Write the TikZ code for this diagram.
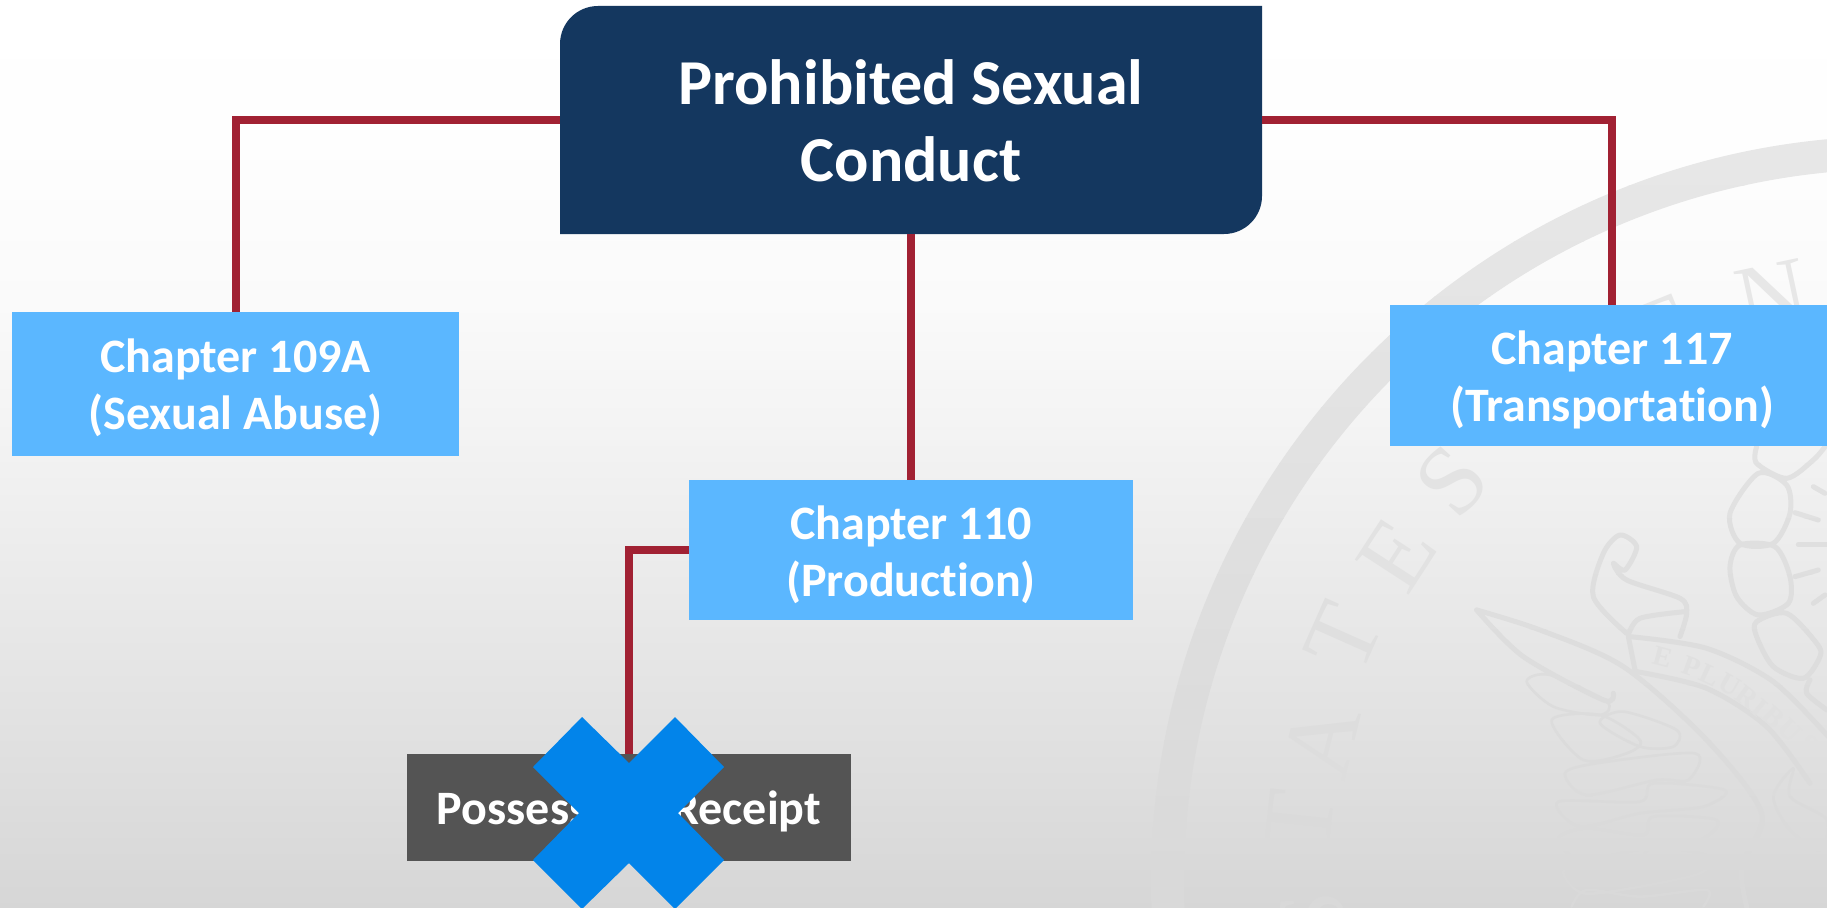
\documentclass[tikz,border=0pt]{standalone}
\usepackage{fontspec}
\setmainfont{Carlito}[Ligatures=NoCommon]
\newfontfamily\sealfont{Liberation Serif}
\usetikzlibrary{positioning}
\definecolor{navybox}{HTML}{14375F}
\definecolor{skybox}{HTML}{5BB7FF}
\definecolor{greybox}{HTML}{545454}
\definecolor{wire}{HTML}{A12133}
\definecolor{crossblue}{HTML}{0284EA}
\pgfdeclareverticalshading{bgsh}{100bp}{color(0bp)=(white!84!black);color(25bp)=(white!84!black);color(37.5bp)=(white!89.5!black);color(50.7bp)=(white!95.2!black);color(58.2bp)=(white!98!black);color(66.7bp)=(white!99.5!black);color(75bp)=(white);color(100bp)=(white)}
\tikzset{
  boxlabel/.style={text=white,font=\bfseries\fontsize{48}{57}\selectfont,align=center,inner sep=0pt},
  sky/.style={boxlabel,fill=skybox,minimum height=142pt},
  wirepath/.style={draw=wire,line width=8pt},
  sealline/.style={draw=sc,line width=5pt,line join=round,line cap=round},
  sealthin/.style={draw=sc,line width=2.6pt,line join=round,line cap=round},
  sealring/.style={draw=sc,line width=33pt},
}
\newcommand{\dropline}[2]{\raisebox{-#1}[\height][\depth]{#2}}
\newcommand{\sealletter}[5]{% x y rot size gray
  \definecolor{lt}{gray}{#5}\node[text=lt,rotate=#3,inner sep=0pt,font=\sealfont\fontsize{#4}{#4}\selectfont] at (#1,#2)}
\newcommand{\sealart}{%
  \draw[sealring] (1897,882) circle[radius=729.5];
  \begin{scope}[shift={(1440,440)},x=0.3333pt,y=-0.3333pt]
    % scroll
    \draw[sealline] plot[smooth] coordinates {(560,580) (460,470) (490,340) (540,285) (590,320) (555,390) (520,370) (560,420) (720,475) (740,520) (720,590)};
    \draw[sealline] plot[smooth] coordinates {(565,585) (600,535) (735,515)};
    \draw[sealline] plot[smooth] coordinates {(565,590) (585,690)};
    \draw[sealline] plot[smooth] coordinates {(570,590) (800,625) (1000,725) (1165,890)};
    \draw[sealline] plot[smooth] coordinates {(590,695) (800,745) (980,860) (1110,1030)};
    % wing tip and body line
    \draw[sealline] plot[smooth] coordinates {(110,510) (300,570) (550,680) (800,900) (965,1120) (905,1280) (920,1400)};
    \draw[sealline] plot[smooth] coordinates {(110,510) (250,650) (490,780) (520,760)};
    % feathers
    \draw[sealthin] plot[smooth cycle] coordinates {(260,725) (330,705) (500,785) (480,825) (340,800)};
    \draw[sealthin] plot[smooth cycle] coordinates {(335,840) (480,825) (600,900) (560,940) (430,960)};
    \draw[sealthin] plot[smooth cycle] coordinates {(480,850) (550,815) (710,870) (700,920) (600,920)};
    \draw[sealthin] plot[smooth cycle] coordinates {(375,1000) (470,970) (765,940) (745,1020) (650,1020) (440,1065)};
    \draw[sealthin] plot[smooth cycle] coordinates {(355,1085) (600,1085) (640,1030) (855,1050) (790,1100) (600,1120) (420,1160)};
    \draw[sealthin] plot[smooth cycle] coordinates {(355,1195) (440,1165) (610,1185) (640,1130) (830,1140) (780,1200) (590,1230) (420,1260)};
    \draw[sealthin] plot[smooth cycle] coordinates {(370,1295) (450,1260) (590,1270) (640,1220) (810,1250) (780,1300) (600,1340) (430,1360)};
    \draw[sealthin] plot[smooth] coordinates {(395,1400) (440,1350) (600,1370) (800,1350) (790,1400)};
    % ribbon detail at the right
    \draw[sealthin] plot[smooth cycle] coordinates {(1060,985) (1000,1070) (1050,1170) (1140,1230) (1161,1140) (1050,1070)};
    % wreath
    \draw[sealline] plot[smooth cycle] coordinates {(955,100) (1040,135) (1050,220) (1000,310) (900,310) (870,220)};
    \draw[sealline] plot[smooth cycle] coordinates {(900,315) (1005,320) (1050,410) (1045,490) (955,525) (890,470) (870,380)};
    \draw[sealline] plot[smooth cycle] coordinates {(1040,520) (1130,610) (1140,650) (1090,715) (1000,680) (950,590) (950,545)};
    \draw[sealline] plot[smooth] coordinates {(950,20) (950,70) (1040,115) (1120,60) (1155,20)};
    \draw[sealline] plot[smooth] coordinates {(1110,720) (1100,760) (1161,810)};
    % rays
    \draw[sealline] (1120,140) -- (1155,160);
    \draw[sealline] (1065,218) -- (1135,240);
    \draw[sealline] (1075,314) -- (1161,314);
    \draw[sealline] (1065,410) -- (1135,390);
    \draw[sealline] (1120,490) -- (1155,465);
  \end{scope}}
\begin{document}
\begin{tikzpicture}[x=1pt,y=-1pt]
  \useasboundingbox (0,0) rectangle (1827,907);
  \clip (0,0) rectangle (1827,907);
  \shade[shading=bgsh] (0,0) rectangle (1827,907);
  % watermark seal: its tone follows the page from top to bottom
  \foreach \band in {0,...,13}{
    \pgfmathsetmacro{\ytop}{130+\band*55.5}
    \pgfmathsetmacro{\ybot}{\ytop+55.5}
    \pgfmathsetmacro{\tone}{0.906-0.055*\band/13}
    \definecolor{sc}{gray}{\tone}
    \begin{scope}
      \clip (0,\ytop) rectangle (1827,\ybot);
      \sealart
    \end{scope}
  }
  \sealletter{1772}{297}{12}{98}{0.905} {N};
  \sealletter{1664}{332}{22}{98}{0.905} {E};
  \sealletter{1452}{481}{48}{98}{0.89} {S};
  \sealletter{1397}{555}{57}{98}{0.885} {E};
  \sealletter{1343}{637}{66}{98}{0.875} {T};
  \sealletter{1322}{740}{76}{98}{0.865} {A};
  \sealletter{1300}{820}{84}{98}{0.855} {T};
  \sealletter{1313}{918}{92}{98}{0.85} {S};
  \begin{scope}[shift={(1440,440)},x=0.3333pt,y=-0.3333pt]
    \foreach \lx/\ly/\la/\lt in {670/650/-15/E,755/680/-20/P,810/705/-25/L,870/735/-30/U,920/770/-36/R,960/805/-40/I,1000/830/-42/B,1050/870/-45/U,1105/915/-50/S}
      \node[text=black!12,rotate=\la,inner sep=0pt,font=\sealfont\bfseries\fontsize{28}{28}\selectfont] at (\lx,\ly) {\lt};
  \end{scope}
  % top box with two rounded corners
  \fill[navybox] (598,6) -- (1262,6) -- (1262,196) arc[start angle=0,end angle=90,radius=38] -- (560,234) -- (560,44) arc[start angle=180,end angle=270,radius=38] -- cycle;
  \node[boxlabel,font=\bfseries\fontsize{64}{77}\selectfont,minimum width=702pt,minimum height=228pt] (root) at (911,120) {\dropline{0.5pt}{Prohibited Sexual}\\\dropline{0.5pt}{Conduct}};
  \node[sky,minimum width=447pt,minimum height=144pt] (ca) at (235.5,384) {\dropline{4pt}{Chapter 109A}\\\dropline{4pt}{(Sexual Abuse)}};
  \node[sky,minimum width=444pt,minimum height=140pt] (cb) at (911,550) {\dropline{5pt}{Chapter 110}\\\dropline{5pt}{(Production)}};
  \node[sky,minimum width=444pt,minimum height=141pt] (cc) at (1612,375.5) {\dropline{4pt}{Chapter 117}\\\dropline{4pt}{(Transportation)}};
  \node[boxlabel,fill=greybox,minimum width=444pt,minimum height=107pt] (pr) at (629,807.5) {\dropline{4pt}{Possession/Receipt}};
  % connectors
  \draw[wirepath] (root.west) -| (ca.north);
  \draw[wirepath] (root.east) -| (cc.north);
  \draw[wirepath] (root.south) -- (cb.north);
  \draw[wirepath] (cb.west) -| (pr.north);
  % blue cross over the last box
  \fill[crossblue] (582,717) -- (629,763) -- (675,717) -- (724,767) -- (678,813) -- (724,860) -- (675,909) -- (629,863) -- (582,909) -- (533,860) -- (579,813) -- (533,767) -- cycle;
\end{tikzpicture}
\end{document}
